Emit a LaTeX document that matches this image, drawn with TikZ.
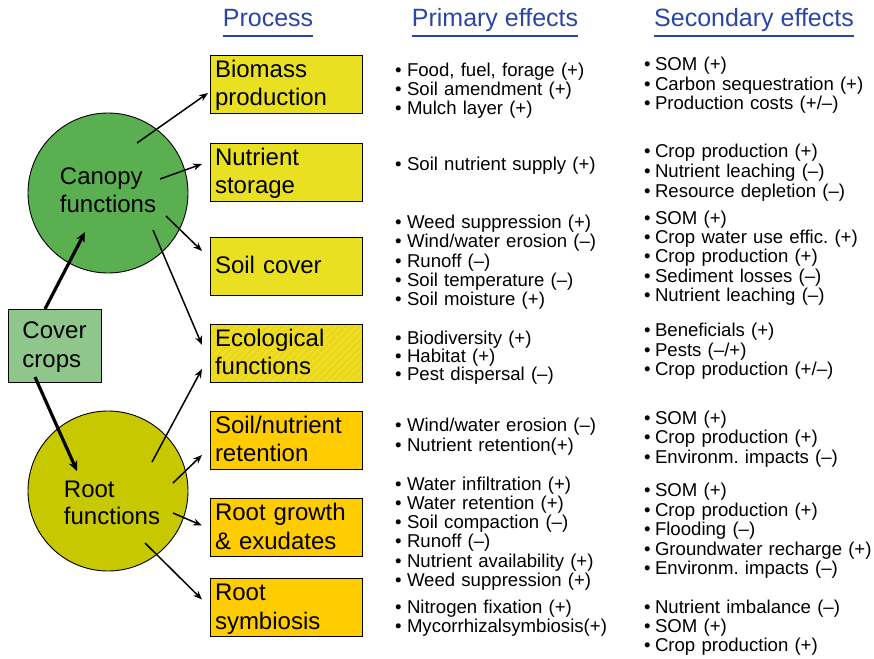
\documentclass[tikz,border=0pt]{standalone}
\usepackage{fontspec}
\setmainfont{Liberation Sans}
\usetikzlibrary{calc,arrows.meta,patterns.meta}
\definecolor{hdrblue}{RGB}{42,70,165}
\definecolor{canopygreen}{RGB}{90,175,80}
\definecolor{rootolive}{RGB}{200,200,0}
\definecolor{covergreen}{RGB}{142,198,140}
\definecolor{boxyellow}{RGB}{234,224,34}
\definecolor{boxorange}{RGB}{255,204,0}
\definecolor{hatchorange}{RGB}{244,204,28}
\newcommand\topstr{\rule{0pt}{20pt}}
\newcommand\botstr{\rule[-5.3pt]{0pt}{5.3pt}}
\newcommand\bul[1]{\makebox[#1][l]{\textbullet}}
\frenchspacing
\begin{document}
\begin{tikzpicture}[x=1pt,y=-1pt,
  every node/.style={outer sep=0pt},
  procbox/.style={draw=black, line width=0.9pt, minimum width=152pt, minimum height=58pt,
    text width=142pt, inner xsep=5pt, inner ysep=0pt, align=left,
    font=\fontsize{24}{28.3}\selectfont, anchor=north west},
  circ/.style={circle, draw=black, line width=0.9pt, minimum size=160pt, inner sep=0pt,
    align=left, font=\fontsize{24}{28}\selectfont},
  hdr/.style={anchor=base, inner sep=0pt, text=hdrblue, font=\fontsize{25}{30}\selectfont},
  hline/.style={draw=hdrblue, line width=1.8pt},
  effA/.style={anchor=base west, inner sep=0pt, text width=250pt, align=left,
    font=\fontsize{18.6}{#1}\selectfont},
  arr/.style={line width=1.5pt, -{Stealth[length=9pt,width=7pt]}},
  thickarr/.style={line width=3.2pt, -{Stealth[length=10pt,width=9pt]}}
]
\useasboundingbox (0,0) rectangle (874,658);
\fill[white] (0,0) rectangle (874,658);

% headers
\node[hdr] (hproc) at (268,26.7) {Process};
\node[hdr] (hprim) at (495,26.7) {Primary effects};
\node[hdr] (hsec) at (754,26.7) {Secondary effects};
\draw[hline] ($(hproc.base west)+(0,9.3)$) -- ($(hproc.base east)+(0,9.3)$);
\draw[hline] ($(hprim.base west)+(0,9.3)$) -- ($(hprim.base east)+(0,9.3)$);
\draw[hline] ($(hsec.base west)+(0,9.3)$) -- ($(hsec.base east)+(0,9.3)$);

% circles and cover box
\node[circ, fill=canopygreen] (canopy) at (108,193)
  {\rule{0pt}{18pt}Canopy\\functions\rule[-8pt]{0pt}{8pt}};
\node[circ, fill=rootolive, font=\fontsize{24}{26.7}\selectfont] (root) at (108,491)
  {\hspace*{8pt}\rule{0pt}{44pt}Root\\\hspace*{8pt}functions\rule[-4.7pt]{0pt}{4.7pt}};
\node[draw=black, line width=0.9pt, fill=covergreen, minimum width=93pt, minimum height=73pt,
  inner sep=0pt, align=left, font=\fontsize{24}{28.3}\selectfont] (cover) at (54.5,345.5)
  {\topstr Cover\\crops\botstr};

% process boxes
\node[procbox, fill=boxyellow] (bio) at (210,55) {\topstr Biomass\\production\botstr};
\node[procbox, fill=boxyellow] (nut) at (210,143) {\topstr Nutrient\\storage\botstr};
\node[procbox, fill=boxyellow] (soil) at (210,237) {\topstr Soil cover\botstr};
\node[procbox, fill=boxyellow,
  postaction={pattern={Lines[angle=45,distance=5pt,line width=1.3pt]}, pattern color=hatchorange},
  postaction={draw=black, line width=0.9pt}]
  (eco) at (210,324) {\topstr Ecological\\functions\botstr};
\node[procbox, fill=boxorange] (snr) at (210,411) {\topstr Soil/nutrient\\retention\botstr};
\node[procbox, fill=boxorange] (rge) at (210,498.5) {\topstr Root growth\\\& exudates\botstr};
\node[procbox, fill=boxorange] (rsy) at (210,578.5) {\topstr Root\\symbiosis\botstr};

% arrows
\draw[thickarr] ($(cover.north)+(-9.5,0)$) -- ($(canopy.center)+(-23,39)$);
\draw[thickarr] ($(cover.center)+(-19.5,31.5)$) -- ($(root.center)+(-31,-20)$);
\draw[arr] ($(canopy.center)+(29,-50)$) -- ($(bio.west)+(-2,9)$);
\draw[arr] ($(canopy.center)+(52,-14)$) -- ($(nut.west)+(-8,-8)$);
\draw[arr] ($(canopy.center)+(58,23)$) -- ($(soil.west)+(-8,-15)$);
\draw[arr] ($(canopy.center)+(45,37)$) -- ($(eco.west)+(-8,-8)$);
\draw[arr] ($(root.center)+(44,-29)$) -- ($(eco.west)+(-8,16)$);
\draw[arr] ($(root.center)+(65,-8)$) -- ($(snr.west)+(-8,15)$);
\draw[arr] ($(root.center)+(65,22)$) -- ($(rge.west)+(-8,-2)$);
\draw[arr] ($(root.center)+(37,52)$) -- ($(rsy.west)+(-8,-8)$);

% primary effects
\node[effA=18.9] (p1) at (395,76.7) {\bul{12pt}Food, fuel, forage (+)\\\bul{12pt}Soil amendment (+)\\\bul{12pt}Mulch layer (+)};
\node[effA=19.4] (p2) at (395,170.7) {\bul{12pt}Soil nutrient supply (+)};
\node[effA=19.4] (p3) at (395,228.3) {\bul{12pt}Weed suppression (+)\\\bul{12pt}Wind/water erosion (–)\\\bul{12pt}Runoff (–)\\\bul{12pt}Soil temperature (–)\\\bul{12pt}Soil moisture (+)};
\node[effA=18] (p4) at (395,344) {\bul{12pt}Biodiversity (+)\\\bul{12pt}Habitat (+)\\\bul{12pt}Pest dispersal (–)};
\node[effA=19.3] (p5) at (395,431.7) {\bul{12pt}Wind/water erosion (–)\\\bul{12pt}Nutrient retention(+)};
\node[effA=19.3] (p6) at (395,490) {\bul{12pt}Water infiltration (+)\\\bul{12pt}Water retention (+)\\\bul{12pt}Soil compaction (–)\\\bul{12pt}Runoff (–)\\\bul{12pt}Nutrient availability (+)\\\bul{12pt}Weed suppression (+)};
\node[effA=19.4] (p7) at (395,613.3) {\bul{12pt}Nitrogen fixation (+)\\\bul{12pt}Mycorrhizalsymbiosis(+)};

% secondary effects
\node[effA=19.5] (s1) at (644,71) {\bul{11pt}SOM (+)\\\bul{11pt}Carbon sequestration (+)\\\bul{11pt}Production costs (+/–)};
\node[effA=19.8] (s2) at (644,157.7) {\bul{11pt}Crop production (+)\\\bul{11pt}Nutrient leaching (–)\\\bul{11pt}Resource depletion (–)};
\node[effA=19.4] (s3) at (644,224) {\bul{11pt}SOM (+)\\\bul{11pt}Crop water use effic. (+)\\\bul{11pt}Crop production (+)\\\bul{11pt}Sediment losses (–)\\\bul{11pt}Nutrient leaching (–)};
\node[effA=19.5] (s4) at (644,336.7) {\bul{11pt}Beneficials (+)\\\bul{11pt}Pests (–/+)\\\bul{11pt}Crop production (+/–)};
\node[effA=19.5] (s5) at (644,424.3) {\bul{11pt}SOM (+)\\\bul{11pt}Crop production (+)\\\bul{11pt}Environm. impacts (–)};
\node[effA=19.5] (s6) at (644,496.7) {\bul{11pt}SOM (+)\\\bul{11pt}Crop production (+)\\\bul{11pt}Flooding (–)\\\bul{11pt}Groundwater recharge (+)\\\bul{11pt}Environm. impacts (–)};
\node[effA=19.2] (s7) at (644,613.3) {\bul{11pt}Nutrient imbalance (–)\\\bul{11pt}SOM (+)\\\bul{11pt}Crop production (+)};
\end{tikzpicture}
\end{document}
